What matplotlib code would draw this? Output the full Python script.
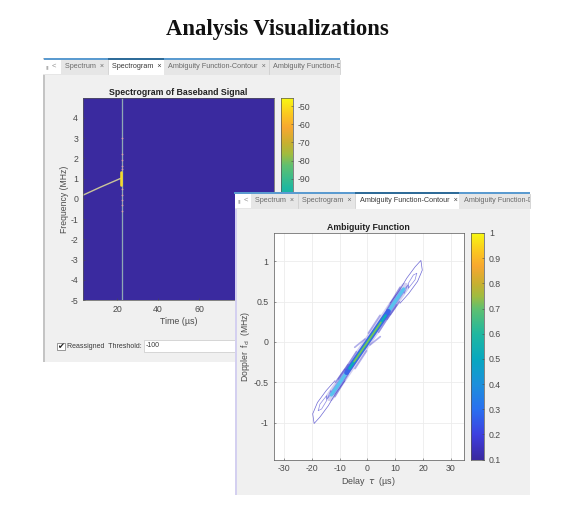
import numpy as np
import matplotlib
matplotlib.use("Agg")
import matplotlib.pyplot as plt
from matplotlib.colors import LinearSegmentedColormap
from matplotlib.patches import Rectangle

W, H = 568, 513
FIG_TITLE = "Analysis Visualizations"
TABS_1 = ["Spectrum  ×", "Spectrogram  ×", "Ambiguity Function-Contour  ×", "Ambiguity Function-D"]
TABS_2 = TABS_1

# Spectrogram readings
spec_floor_db = -156.6
spec_top_db = -45.6
chirp_t = [3.4, 12.0, 21.6]
chirp_f = [0.18, 0.58, 1.0]
burst_t = [22.0, 22.0]
burst_f = [0.68, 1.34]
impulse_t = [22.3, 22.3]
impulse_f = [-5.0, 4.98]
speck_t = [22.3, 22.3, 22.4, 22.2, 22.3, 22.4, 22.3, 22.3, 22.2, 22.4]
speck_f = [2.2, 1.9, 1.6, 0.5, 0.2, -0.05, -0.3, -0.6, 3.0, 1.45]
spec_xticks = [20, 40, 60]
spec_yticks = [-5, -4, -3, -2, -1, 0, 1, 2, 3, 4]
spec_cticks = [-90, -80, -70, -60, -50]

# Ambiguity function readings: the upper-right half; the function is point-symmetric
lobe_010_tau = [8.1, 11.1, 12.3, 14.1, 17.1, 19.2, 19.7, 18.0, 14.8, 11.7]
lobe_010_f = [0.48, 0.62, 0.685, 0.79, 0.93, 1.01, 0.89, 0.75, 0.60, 0.48]
lobe_020_tau = [17.7, 17.1, 14.7, 14.7, 16.5, 17.7]
lobe_020_f = [0.85, 0.77, 0.665, 0.727, 0.83, 0.85]
lobe_030_tau = [14.4, 13.2, 13.0, 14.4]
lobe_030_f = [0.70, 0.60, 0.64, 0.70]
spike_tau = [(11.7, 6.9), (4.5, 0.3), (8.0, 4.0), (10.5, 7.0), (4.6, 0.9), (11.5, 8.2)]
spike_f = [(0.678, 0.395), (0.33, 0.11), (0.34, 0.12), (0.46, 0.28), (0.066, -0.037), (0.50, 0.34)]
ridge_slope = 0.0505
ridge_level = [0.15, 0.2, 0.45, 0.25, 0.52, 0.72]
ridge_reach = [13.5, 12.5, 13.0, 7.5, 6.5, 4.8]
amb_xticks = [-30, -20, -10, 0, 10, 20, 30]
amb_yticks = [-1, -0.5, 0, 0.5, 1]
amb_cticks = [0.1, 0.2, 0.3, 0.4, 0.5, 0.6, 0.7, 0.8, 0.9, 1]

# Styles
plt.rcParams["font.family"] = ["Liberation Sans", "DejaVu Sans"]
plt.rcParams["axes.unicode_minus"] = False
TXT = "#4a4a4a"
PANEL = "#f0f0f0"
TABBG = "#e6e6e6"
cmap = LinearSegmentedColormap.from_list("parula_like", [
    (0.000, "#3a2a9f"), (0.056, "#3d33c0"), (0.111, "#3e40e0"), (0.222, "#2a70f0"),
    (0.333, "#1c90dc"), (0.444, "#08a8c0"), (0.556, "#20b8a0"), (0.667, "#60c070"),
    (0.722, "#a0bc40"), (0.778, "#c8b030"), (0.856, "#f8a830"), (0.922, "#fcc820"),
    (1.000, "#f8f810")])

px = 0.72  # one pixel, in points
fig = plt.figure(figsize=(W / 100, H / 100), dpi=100, facecolor="white")


def ax_px(l, t, r, b, z):
    a = fig.add_axes([l / W, 1 - b / H, (r - l) / W, (b - t) / H], zorder=z)
    return a


def overlay(z):
    a = fig.add_axes([0, 0, 1, 1], zorder=z)
    a.set_xlim(0, W)
    a.set_ylim(H, 0)
    a.axis("off")
    a.patch.set_alpha(0)
    return a


def window(a, l, t, r, b, tab_edges, active, labels, edge):
    a.add_patch(Rectangle((l, t), r - l, b - t, fc=PANEL, ec="none"))
    a.add_patch(Rectangle((l, t), 1.5, b - t, fc=edge, ec="none"))
    a.add_patch(Rectangle((l, t + 1), r - l, 16, fc=TABBG, ec="none"))
    a.add_patch(Rectangle((l, t + 2), tab_edges[0] - l, 14, fc="white", ec="none"))
    a.add_patch(Rectangle((tab_edges[0] - 17, t), r - tab_edges[0] + 17, 1.6,
                          fc="#5b9bd0", ec="none"))
    a.text(l + 4, t + 9, "▮", fontsize=3.5, color="#b0b0b0", ha="center", va="center")
    a.text(l + 11, t + 8.5, "<", fontsize=5.5, color="#909090", ha="center", va="center")
    for i, lab in enumerate(labels):
        x0, x1 = tab_edges[i], tab_edges[i + 1]
        if i == active:
            a.add_patch(Rectangle((x0, t), x1 - x0, 16.5, fc="white", ec="none"))
            a.add_patch(Rectangle((x0, t), x1 - x0, 1.6, fc="#2f6c99", ec="none"))
        else:
            a.plot([x1, x1], [t + 2, t + 16], color="#cfcfcf", lw=0.6)
        clip = Rectangle((x0, t), x1 - x0, 17, transform=a.transData)
        s = a.text(x0 + 4.5, t + 9, lab, fontsize=5.2, ha="left", va="center",
                   color="#3a3a3a" if i == active else "#6a6a6a")
        s.set_clip_path(clip)
        s.set_clip_on(True)


def style(a):
    a.tick_params(labelsize=6.3, colors=TXT, length=1.6, width=0.4, direction="in", pad=3.5)
    for s in a.spines.values():
        s.set_color("#555555")
        s.set_linewidth(0.5)


# ---- first window
bg1 = overlay(0)
bg1.text(277.5, 29.5, FIG_TITLE, family="Liberation Serif", fontweight="bold", fontsize=16.3,
         color="#111111", ha="center", va="center")
window(bg1, 43, 58, 340, 362, [60.5, 108, 164, 268.5, 340], 1, TABS_1, "#c4c4c4")
bg1.add_patch(Rectangle((57, 342.5), 7.5, 7.5, fc="white", ec="#707070", lw=0.5))
bg1.text(60.8, 346.2, "✔", family="DejaVu Sans", fontsize=6, color="#222222", ha="center", va="center")
bg1.text(67, 346.3, "Reassigned  Threshold:", fontsize=5.0, color="#3a3a3a", va="center")
bg1.add_patch(Rectangle((143.5, 340), 100, 12, fc="white", ec="#c8c8c8", lw=0.5))
bg1.text(146, 345.8, "-100", fontsize=5.0, color="#3a3a3a", va="center")

ax1 = ax_px(83, 98, 274, 300, 1)
ax1.set_facecolor(cmap(0.0))
ax1.set_xlim(3.4, 96.6)
ax1.set_ylim(-5, 4.98)
ax1.plot(impulse_t, impulse_f, color="#8fa8b4", lw=1.3 * px, solid_capstyle="butt")
ax1.plot(chirp_t, chirp_f, color="#c9c49a", lw=1.4 * px)
ax1.plot(burst_t, burst_f, color="#f4d92a", lw=2.6 * px, solid_capstyle="round")
ax1.scatter(speck_t, speck_f, s=1.6, color="#d8a0a8", linewidths=0, zorder=3)
ax1.set_xticks(spec_xticks)
ax1.set_yticks(spec_yticks)
style(ax1)
ax1.set_title("Spectrogram of Baseband Signal", fontsize=6.3, fontweight="bold",
              color="#222222", pad=2.5)
ax1.set_xlabel("Time (µs)", fontsize=6.4, color=TXT, labelpad=2)
ax1.set_ylabel("Frequency (MHz)", fontsize=6.2, color=TXT)
ax1.yaxis.set_label_coords(-0.073, 0.5)

cb1 = ax_px(281, 98, 293, 300, 1)
grad = np.linspace(0, 1, 256).reshape(-1, 1)
cb1.imshow(grad, cmap=cmap, origin="lower", aspect="auto",
           extent=[0, 1, spec_floor_db, spec_top_db])
cb1.set_xticks([])
cb1.yaxis.tick_right()
cb1.set_yticks(spec_cticks)
style(cb1)

# ---- second window
bg2 = overlay(2)
window(bg2, 235, 192, 530, 495, [250.5, 298, 355, 459, 530], 2, TABS_2, "#d4d0f0")

ax2 = ax_px(273.5, 233, 464, 459.5, 3)
ax2.set_facecolor("white")
ax2.set_xlim(-33.8, 34.7)
ax2.set_ylim(-1.456, 1.35)
ax2.set_xticks(amb_xticks)
ax2.set_yticks(amb_yticks)
ax2.set_yticklabels(["-1", "-0.5", "0", "0.5", "1"])
ax2.grid(True, color="#ececec", lw=0.6)
ax2.set_axisbelow(True)
style(ax2)
ax2.set_title("Ambiguity Function", fontsize=6.3, fontweight="bold", color="#222222", pad=2.5)
ax2.set_xlabel("Delay  $\\tau$  (µs)", fontsize=6.4, color=TXT, labelpad=1)
ax2.set_ylabel("Doppler  f$_{\\rm d}$  (MHz)", fontsize=6.2, color=TXT)
ax2.yaxis.set_label_coords(-0.115, 0.5)


def lev(v):
    return cmap((v - 0.1) / 0.9)


for sign in (1, -1):
    for xs, ys, v, a_ in ((lobe_010_tau, lobe_010_f, 0.16, 0.75),
                          (lobe_020_tau, lobe_020_f, 0.18, 0.6),
                          (lobe_030_tau, lobe_030_f, 0.22, 0.5)):
        ax2.plot(sign * np.array(xs), sign * np.array(ys), color=lev(v), lw=0.5, alpha=a_)
    for xs, ys in zip(spike_tau, spike_f):
        ax2.plot(sign * np.array(xs), sign * np.array(ys), color=lev(0.17), lw=1.2, alpha=0.4,
                 solid_capstyle="round")

ridge_width = [8.5, 5.0, 3.4, 5.0, 2.6, 1.7]
ridge_alpha = [0.22, 0.4, 0.95, 0.85, 1.0, 1.0]
for v, reach, w, al in zip(ridge_level, ridge_reach, ridge_width, ridge_alpha):
    tt = np.array([-reach, reach])
    col = "#55c6ef" if v == 0.45 else lev(v)
    ax2.plot(tt, ridge_slope * tt, color=col, lw=w * px, alpha=al, solid_capstyle="round")

cb2 = ax_px(471, 233, 484, 459.5, 3)
cb2.imshow(grad, cmap=cmap, origin="lower", aspect="auto", extent=[0, 1, 0.1, 1.0])
cb2.set_xticks([])
cb2.yaxis.tick_right()
cb2.set_yticks(amb_cticks)
cb2.set_yticklabels(["0.1", "0.2", "0.3", "0.4", "0.5", "0.6", "0.7", "0.8", "0.9", "1"])
style(cb2)

fig.savefig("out.png", dpi=100, facecolor="white")
